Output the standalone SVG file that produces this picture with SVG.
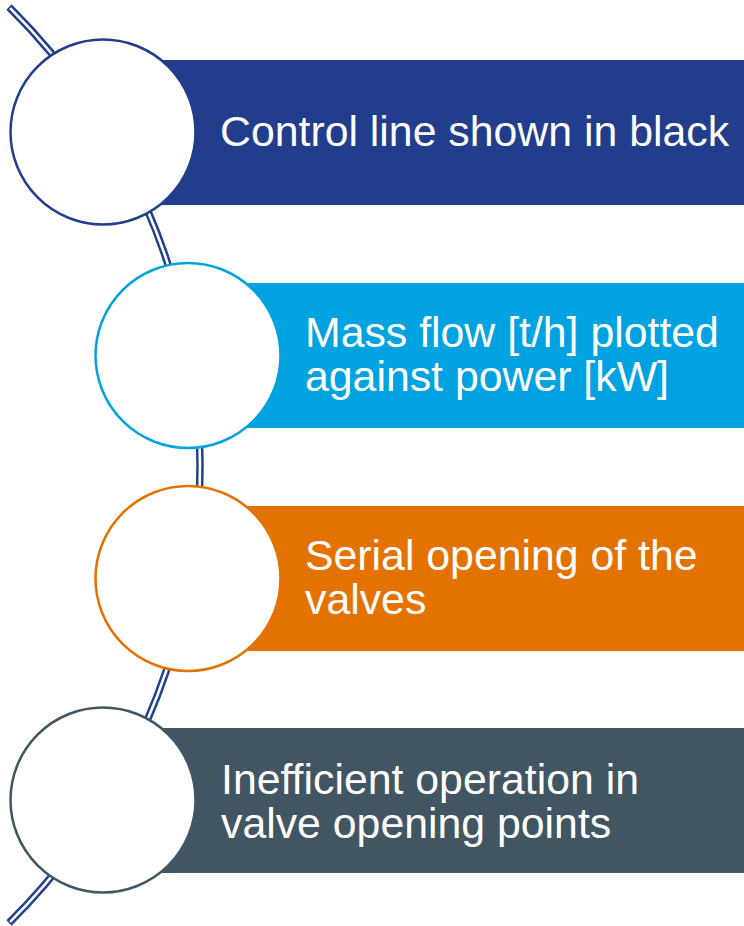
<svg xmlns="http://www.w3.org/2000/svg" width="744" height="926" viewBox="0 0 744 926">
  <style>
    .lbl { font-family: "Liberation Sans", Arial, sans-serif; font-size: 42.8px; fill: #ffffff; }
    .circ { fill: #ffffff; stroke-width: 2.5; }
    .conn-outer { fill: none; stroke: #223f8c; stroke-width: 7.5; }
    .conn-inner { fill: none; stroke: #ffffff; stroke-width: 2.6; }
  </style>
  <rect width="744" height="926" fill="#ffffff"/>
  <g id="connectors">
    <path class="conn-outer" d="M 9 7 A 644.6 644.6 0 0 1 9 923"/>
    <path class="conn-inner" d="M 10.1 8.1 A 644.6 644.6 0 0 1 10.1 921.9"/>
  </g>
  <g id="node1">
    <rect x="160" y="60" width="584" height="145" fill="#213d8b"/>
    <circle class="circ" cx="103" cy="132" r="92.5" stroke="#213d8b"/>
    <text class="lbl" x="220" y="146">Control line shown in black</text>
  </g>
  <g id="node2">
    <rect x="245" y="283" width="499" height="145" fill="#00a3df"/>
    <circle class="circ" cx="188" cy="355.5" r="92.5" stroke="#00a3df"/>
    <text class="lbl" x="305" y="347">Mass flow [t/h] plotted</text>
    <text class="lbl" x="305" y="390.5">against power [kW]</text>
  </g>
  <g id="node3">
    <rect x="245" y="506" width="499" height="145" fill="#e47200"/>
    <circle class="circ" cx="188" cy="578.5" r="92.5" stroke="#e47200"/>
    <text class="lbl" x="305" y="569.5">Serial opening of the</text>
    <text class="lbl" x="305" y="613.5">valves</text>
  </g>
  <g id="node4">
    <rect x="160" y="728" width="584" height="145" fill="#425563"/>
    <circle class="circ" cx="103" cy="800" r="92.5" stroke="#425563"/>
    <text class="lbl" x="221" y="794">Inefficient operation in</text>
    <text class="lbl" x="221" y="837.5">valve opening points</text>
  </g>
</svg>
